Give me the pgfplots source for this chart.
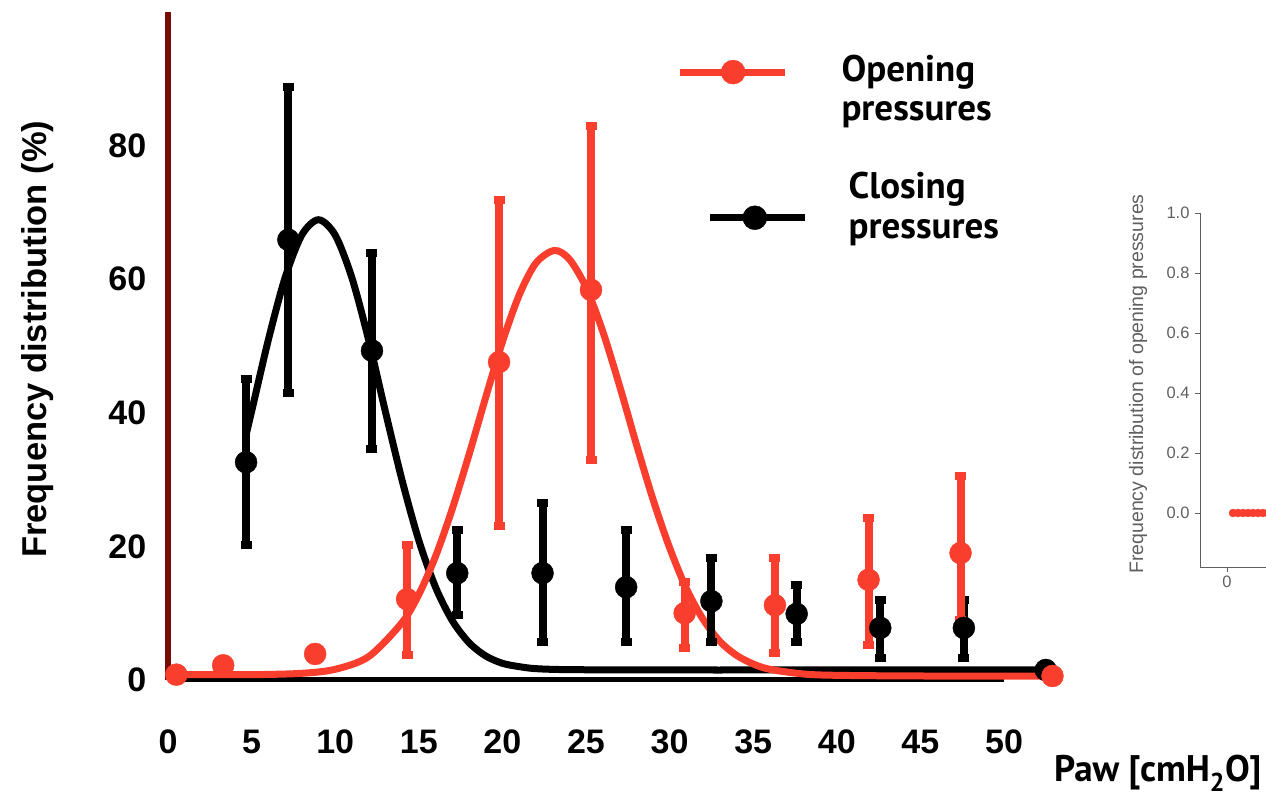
\documentclass[border=0pt]{standalone}
\usepackage{fontspec}
\setmainfont{Liberation Sans}
\newfontfamily\legfont{PT Sans}
\usepackage{pgfplots}
\pgfplotsset{compat=1.18}
\definecolor{myred}{RGB}{250,62,45}
\definecolor{axred}{RGB}{118,12,4}
\definecolor{insetgray}{RGB}{95,95,95}
\begin{document}
\begin{tikzpicture}
\clip (-168pt,-117pt) rectangle (1098pt,680pt);
\begin{axis}[
  at={(0pt,0pt)}, anchor=origin,
  x=16.72pt, y=6.68pt,
  xmin=0, xmax=50, ymin=0, ymax=100,
  clip=false,
  axis lines*=left,
  x axis line style={black, line width=5pt},
  y axis line style={axred, line width=6pt},
  xtick={0,5,...,50}, ytick={0,20,40,60,80},
  tick align=center,
  major tick length=7pt,
  xtick style={white, line width=2.5pt},
  ytick style={white, line width=2pt, xshift=-2pt},
  /pgf/number format/assume math mode=true,
  ticklabel style={font=\fontsize{34}{40}\selectfont\bfseries},
  xticklabel style={anchor=north, inner sep=0pt, yshift=-46pt},
  yticklabel style={anchor=east, inner sep=0pt, xshift=-18pt},
  xlabel={Paw [cmH\textsubscript{2}O]},
  every axis x label/.style={at={(axis cs:65.6,-15.2)}, anchor=base east, font=\legfont\fontsize{37}{40}\selectfont\bfseries},
  ylabel={Frequency distribution (\%)},
  every axis y label/.style={at={(axis cs:-7.78,51.0)}, rotate=90, anchor=center, font=\fontsize{34.5}{38}\selectfont\bfseries},
]
% fitted curves
\addplot[black, line width=7pt, smooth, tension=0.5, no marks] coordinates {
 (4.67,36.7)(5,40.2)(6,50.9)(7,60.2)(8,66.6)(9,68.9)(10,66.6)(11,60.2)(12,50.9)
 (13,40.2)(14,29.9)(15,20.9)(16,13.9)(17,8.9)(18,5.6)(19,3.6)(20,2.5)(21,2.0)
 (22,1.7)(24,1.55)(30,1.5)(40,1.5)(52.5,1.5)};
\addplot[myred, line width=7pt, smooth, tension=0.5, no marks] coordinates {
 (0.5,0.8)(5,0.8)(8,1.0)(10,1.6)(12,3.5)(14,8.6)(15,12.8)(16,18.5)(17,25.6)
 (18,33.7)(19,42.3)(20,50.6)(21,57.6)(22,62.4)(23.1,64.3)(24,63.0)(25,58.8)
 (26,52.2)(27,44.1)(28,35.4)(29,27.1)(30,19.8)(31,13.7)(32,9.1)(33,5.8)
 (34,3.7)(35,2.4)(36,1.6)(38,0.9)(40,0.7)(45,0.6)(52.9,0.6)};
% closing pressures (black)
\addplot[black, only marks, mark=*, mark size=11pt,
  error bars/.cd, y dir=both, y explicit,
  error bar style={line width=8pt, black},
  error mark options={rotate=90, mark size=5.5pt, line width=8pt, black}]
 coordinates {
 (4.67,32.6) += (0,12.4) -= (0,12.4)
 (7.2,65.9) += (0,22.9) -= (0,22.9)
 (12.2,49.3) += (0,14.6) -= (0,14.7)
 (17.3,16.0) += (0,6.5) -= (0,6.3)
 (22.4,16.0) += (0,10.5) -= (0,10.3)
 (27.4,13.9) += (0,8.6) -= (0,8.2)
 (32.5,11.8) += (0,6.5) -= (0,6.1)
 (37.6,9.9) += (0,4.3) -= (0,4.2)
 (42.6,7.8) += (0,4.2) -= (0,4.5)
 (47.6,7.8) += (0,4.2) -= (0,4.5)
 (52.5,1.5) += (0,0) -= (0,0)};
% opening pressures (red)
\addplot[myred, only marks, mark=*, mark size=11pt,
  error bars/.cd, y dir=both, y explicit,
  error bar style={line width=8pt, myred},
  error mark options={rotate=90, mark size=5.5pt, line width=8pt, myred}]
 coordinates {
 (0.5,0.8) += (0,0) -= (0,0)
 (3.3,2.2) += (0,0) -= (0,0)
 (8.8,3.9) += (0,0) -= (0,0)
 (14.3,12.1) += (0,8.1) -= (0,8.4)
 (19.8,47.6) += (0,24.3) -= (0,24.6)
 (25.3,58.4) += (0,24.5) -= (0,25.5)
 (30.9,10.0) += (0,4.7) -= (0,5.2)
 (36.3,11.2) += (0,7.1) -= (0,7.2)
 (41.9,15.0) += (0,9.3) -= (0,9.8)
 (47.4,19.0) += (0,11.5) -= (0,10.0)
 (52.9,0.6) += (0,0) -= (0,0)};
% legend samples
\addplot[myred, line width=7pt, no marks] coordinates {(30.62,91.0)(36.9,91.0)};
\addplot[myred, only marks, mark=*, mark size=12pt] coordinates {(33.8,91.0)};
\addplot[black, line width=7pt, no marks] coordinates {(32.42,69.2)(38.1,69.2)};
\addplot[black, only marks, mark=*, mark size=12pt] coordinates {(35.1,69.2)};
\node[anchor=base west, font=\legfont\fontsize{37}{40}\selectfont\bfseries] at (axis cs:40.07,89.52) {Opening};
\node[anchor=base west, font=\legfont\fontsize{37}{40}\selectfont\bfseries] at (axis cs:40.07,83.76) {pressures};
\node[anchor=base west, font=\legfont\fontsize{37}{40}\selectfont\bfseries] at (axis cs:40.5,72.01) {Closing};
\node[anchor=base west, font=\legfont\fontsize{37}{40}\selectfont\bfseries] at (axis cs:40.5,66.09) {pressures};
\end{axis}
% inset (cropped second chart)
\begin{axis}[
  at={(1059pt,167pt)}, anchor=origin,
  x=5pt, y=300pt,
  xmin=-5.4, xmax=30, ymin=-0.18, ymax=1.0,
  clip=false,
  axis lines*=left,
  axis line style={insetgray, line width=0.8pt},
  tick style={insetgray, line width=0.8pt},
  tick align=outside, major tick length=5pt,
  xtick={0}, ytick={0,0.2,0.4,0.6,0.8,1.0},
  /pgf/number format/assume math mode=true,
  ticklabel style={font=\fontsize{16.5}{18}\selectfont, text=insetgray},
  yticklabel style={/pgf/number format/fixed, /pgf/number format/fixed zerofill, /pgf/number format/precision=1, xshift=-2pt},
  ylabel={Frequency distribution of opening pressures},
  every axis y label/.style={at={(axis cs:-17.8,0.43)}, rotate=90, anchor=center, font=\fontsize{19.5}{21}\selectfont, text=insetgray},
]
\addplot[myred, only marks, mark=*, mark size=4pt] coordinates {
 (1.2,0)(2.2,0)(3.2,0)(4.2,0)(5.2,0)(6.2,0)(7.2,0)(8.2,0)};
\end{axis}
\end{tikzpicture}
\end{document}
